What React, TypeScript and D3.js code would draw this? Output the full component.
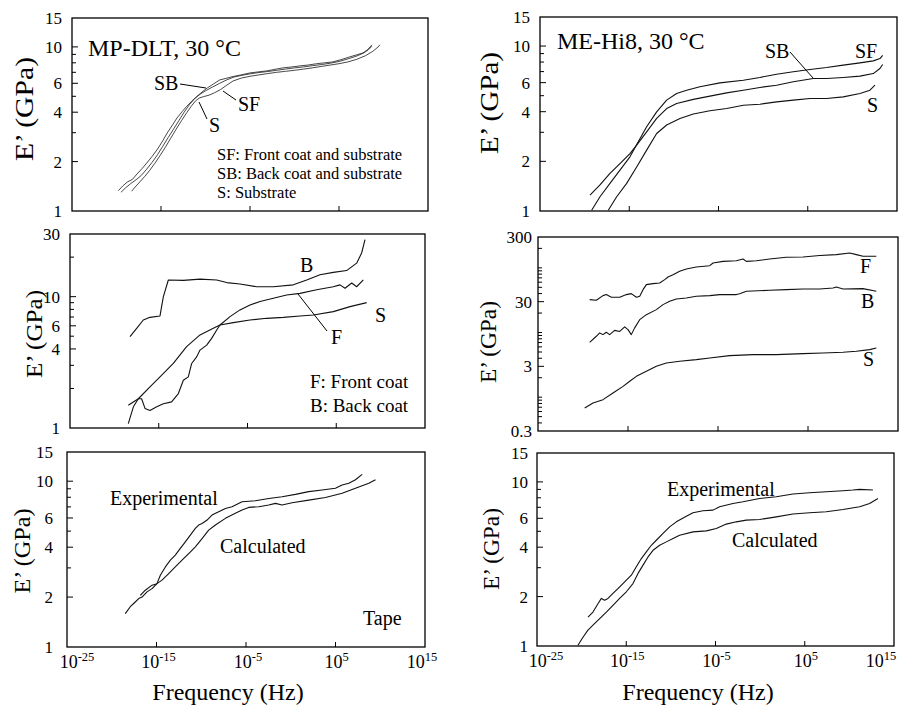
import React from "react";
import * as d3 from "d3";

type Pt = [number, number]; // [log10 frequency (Hz), E' (GPa)]

// ---------- MP-DLT, 30 °C (top left) ----------
const tlSB: Pt[] = [[-19.8,1.33],[-19.3,1.42],[-18.8,1.5],[-18.2,1.56],[-17.7,1.68],[-17.1,1.82],[-16.6,1.96],[-16.0,2.15],[-15.4,2.38],[-14.8,2.68],[-14.3,2.99],[-13.7,3.35],[-13.2,3.69],[-12.6,4.05],[-12.1,4.35],[-11.5,4.7],[-11.0,4.98],[-10.4,5.3],[-9.8,5.62],[-9.1,5.95],[-8.4,6.29],[-7.6,6.45],[-6.9,6.6],[-6.0,6.75],[-5.0,6.94],[-4.0,7.05],[-3.1,7.14],[-2.2,7.3],[-1.3,7.45],[-0.3,7.55],[0.6,7.66],[1.5,7.75],[2.5,7.9],[3.4,8.0],[4.3,8.1],[5.2,8.35],[6.2,8.69],[7.0,8.95],[7.7,9.19],[8.2,9.6],[8.5,10.0],[8.7,10.3]];
const tlSF: Pt[] = [[-19.5,1.3],[-19.0,1.38],[-18.4,1.47],[-17.8,1.55],[-17.2,1.65],[-16.6,1.8],[-16.0,1.98],[-15.4,2.2],[-14.8,2.48],[-14.2,2.8],[-13.6,3.15],[-13.0,3.55],[-12.4,4.0],[-11.8,4.45],[-11.2,4.85],[-10.6,5.15],[-10.0,5.4],[-9.2,5.7],[-8.4,6.0],[-7.6,6.3],[-6.8,6.55],[-6.0,6.7],[-5.0,6.85],[-4.0,6.98],[-3.0,7.08],[-2.0,7.2],[-1.0,7.33],[0.0,7.45],[1.0,7.55],[2.0,7.68],[3.0,7.8],[4.0,7.95],[5.0,8.15],[6.0,8.45],[7.0,8.8],[7.8,9.2],[8.3,9.6],[8.7,10.1]];
const tlS: Pt[] = [[-18.3,1.32],[-17.8,1.42],[-17.3,1.52],[-16.8,1.63],[-16.3,1.76],[-15.7,1.95],[-15.1,2.18],[-14.5,2.45],[-13.9,2.78],[-13.3,3.15],[-12.7,3.55],[-12.1,3.98],[-11.6,4.35],[-11.1,4.7],[-10.7,4.88],[-10.2,4.98],[-9.6,5.08],[-9.0,5.25],[-8.3,5.5],[-7.6,5.85],[-6.9,6.2],[-6.0,6.45],[-5.0,6.62],[-4.0,6.75],[-3.0,6.88],[-2.0,7.0],[-1.0,7.1],[0.0,7.2],[1.0,7.32],[2.0,7.45],[3.0,7.6],[4.0,7.75],[5.0,7.9],[6.0,8.1],[7.0,8.4],[8.0,8.85],[8.8,9.4],[9.4,10.0],[9.6,10.3]];

// ---------- ME-Hi8, 30 °C (top right) ----------
const trSF: Pt[] = [[-19.21,1.01],[-18.28,1.22],[-17.16,1.47],[-16.04,1.77],[-14.92,2.13],[-13.99,2.63],[-13.05,3.24],[-11.93,3.99],[-10.81,4.7],[-9.69,5.16],[-8.57,5.4],[-7.08,5.66],[-4.84,5.98],[-2.22,6.21],[-0.36,6.45],[1.51,6.75],[3.38,6.98],[5.25,7.21],[7.11,7.41],[8.98,7.66],[10.85,7.91],[12.34,8.13],[13.09,8.4],[13.39,8.79]];
const trSB: Pt[] = [[-19.4,1.25],[-18.28,1.44],[-17.16,1.69],[-16.04,1.94],[-14.92,2.23],[-14.17,2.51],[-13.05,3.02],[-11.93,3.64],[-10.81,4.18],[-9.69,4.49],[-7.82,4.75],[-5.96,4.97],[-4.09,5.2],[-2.22,5.4],[-0.36,5.61],[1.51,5.79],[3.38,6.07],[5.62,6.36],[7.11,6.36],[8.98,6.45],[10.85,6.57],[12.34,6.81],[13.09,7.31],[13.39,7.73]];
const trS: Pt[] = [[-17.35,1.01],[-16.41,1.22],[-15.29,1.47],[-14.17,1.85],[-13.05,2.34],[-11.93,2.95],[-10.81,3.32],[-9.32,3.64],[-7.82,3.87],[-5.96,4.05],[-4.09,4.18],[-2.22,4.38],[-0.36,4.44],[1.51,4.59],[3.38,4.7],[5.25,4.81],[7.11,4.81],[8.98,4.92],[10.85,5.16],[11.97,5.4],[12.53,5.79]];

// ---------- MP-DLT coats (middle left) ----------
const mlB: Pt[] = [[-18.24,4.96],[-17.49,5.74],[-16.74,6.64],[-15.99,6.96],[-14.86,7.13],[-14.48,10.0],[-13.92,13.4],[-12.23,13.3],[-10.35,13.6],[-8.47,13.4],[-7.35,12.8],[-5.85,12.5],[-3.97,11.9],[-2.09,11.9],[0.16,12.3],[1.67,13.4],[3.17,14.7],[4.67,15.3],[6.17,15.8],[7.3,18.0],[7.86,21.5],[8.24,27.2]];
const mlF: Pt[] = [[-18.43,1.08],[-17.86,1.45],[-17.3,1.67],[-16.93,1.67],[-16.55,1.41],[-15.99,1.36],[-15.23,1.45],[-14.48,1.53],[-13.55,1.58],[-12.79,1.83],[-12.23,2.31],[-11.67,2.45],[-11.29,3.1],[-10.73,3.48],[-10.35,3.92],[-9.6,4.28],[-9.04,4.81],[-8.47,5.57],[-8.1,6.08],[-6.97,7.05],[-5.85,7.93],[-4.72,8.65],[-3.59,9.18],[-2.09,9.73],[-0.59,10.3],[0.92,10.6],[2.79,11.3],[4.67,11.9],[5.42,12.3],[5.99,11.6],[6.74,12.7],[7.3,11.9],[8.05,13.4]];
const mlS: Pt[] = [[-18.43,1.49],[-17.3,1.67],[-15.99,2.06],[-14.86,2.45],[-13.36,3.1],[-11.86,4.16],[-10.35,5.11],[-8.85,5.74],[-8.1,6.08],[-6.6,6.34],[-4.72,6.64],[-2.84,6.84],[-0.96,6.96],[0.92,7.13],[2.42,7.26],[4.67,7.69],[6.55,8.4],[8.43,9.01]];

// ---------- ME-Hi8 layers (middle right) ----------
const mrF: Pt[] = [[-19.26,32.3],[-18.52,31.5],[-17.78,37.2],[-17.41,38.6],[-16.85,35.1],[-15.92,35.1],[-15.18,38.6],[-14.63,39.9],[-14.07,35.1],[-13.7,36.3],[-13.33,46.0],[-12.96,55.0],[-12.22,57.0],[-11.48,58.4],[-10.92,65.7],[-10.55,72.3],[-10.0,78.5],[-9.26,88.4],[-8.52,96.2],[-7.41,103],[-5.92,108],[-5.55,119],[-4.44,126],[-2.96,129],[-2.22,137],[-1.85,126],[-0.74,129],[0.74,137],[2.59,146],[4.45,147],[6.3,155],[8.15,160],[9.63,170],[10.37,160],[11.11,151],[12.59,151]];
const mrB: Pt[] = [[-19.26,7.06],[-18.52,8.75],[-18.15,9.85],[-17.78,9.28],[-17.41,10.1],[-17.04,9.28],[-16.48,10.8],[-15.92,10.4],[-15.37,12.2],[-15.0,11.1],[-14.63,9.28],[-14.26,11.8],[-13.7,15.8],[-12.96,18.9],[-11.85,22.6],[-11.11,27.0],[-10.37,30.4],[-9.63,33.0],[-8.52,34.2],[-7.41,36.3],[-5.92,37.2],[-4.81,38.6],[-2.96,38.6],[-2.59,39.9],[-1.85,43.4],[0.74,45.0],[2.59,46.0],[4.45,47.2],[6.3,47.2],[7.78,48.9],[8.15,50.7],[8.89,47.2],[11.11,47.7],[12.59,43.4]];
const mrS: Pt[] = [[-19.81,0.681],[-18.89,0.814],[-17.78,0.916],[-16.67,1.16],[-15.55,1.47],[-14.81,1.76],[-14.07,2.1],[-12.96,2.51],[-11.85,3.0],[-10.74,3.38],[-9.26,3.59],[-7.41,3.81],[-5.92,4.04],[-3.7,4.39],[-1.11,4.55],[1.48,4.55],[4.45,4.72],[6.67,4.83],[8.89,4.95],[10.37,5.13],[11.85,5.44],[12.59,5.77]];

// ---------- Tape, experimental vs calculated (bottom) ----------
const blExp: Pt[] = [[-18.49,1.59],[-17.93,1.75],[-17.55,1.83],[-16.99,1.96],[-16.62,2.0],[-16.06,2.15],[-15.5,2.25],[-14.95,2.41],[-14.57,2.71],[-14.01,3.04],[-13.45,3.34],[-12.9,3.58],[-12.34,3.93],[-11.78,4.31],[-11.22,4.73],[-10.66,5.19],[-10.29,5.44],[-9.91,5.56],[-9.35,5.83],[-8.8,6.25],[-8.05,6.54],[-7.3,6.85],[-6.56,7.02],[-5.44,7.52],[-3.95,7.62],[-2.46,7.87],[-0.97,8.06],[0.52,8.33],[2.01,8.65],[3.5,8.85],[4.99,9.06],[5.74,9.49],[6.49,9.71],[7.23,10.2],[7.98,11.0]];
const blCalc: Pt[] = [[-16.81,2.05],[-16.25,2.2],[-15.5,2.36],[-14.95,2.41],[-14.39,2.53],[-13.64,2.77],[-12.9,3.04],[-12.15,3.34],[-11.4,3.66],[-10.66,4.02],[-9.91,4.51],[-9.17,5.07],[-8.42,5.44],[-7.3,5.97],[-6.19,6.4],[-5.44,6.7],[-4.7,6.95],[-3.58,7.02],[-2.46,7.18],[-1.71,7.35],[-0.97,7.18],[0.15,7.41],[2.01,7.69],[3.88,7.98],[5.74,8.45],[7.23,9.06],[8.72,9.71],[9.47,10.2]];
const brExp: Pt[] = [[-19.29,1.5],[-18.73,1.61],[-18.17,1.81],[-17.79,1.95],[-17.42,1.9],[-17.05,1.95],[-16.49,2.09],[-15.93,2.24],[-15.37,2.4],[-14.99,2.52],[-14.43,2.7],[-13.87,3.04],[-13.31,3.41],[-12.75,3.75],[-12.19,4.11],[-11.63,4.41],[-10.88,4.85],[-10.14,5.32],[-9.39,5.71],[-8.27,6.18],[-7.52,6.48],[-6.4,6.67],[-5.28,6.73],[-4.54,7.05],[-3.04,7.39],[-1.92,7.57],[-0.06,7.93],[1.81,8.11],[3.68,8.43],[5.55,8.59],[7.41,8.71],[9.28,8.83],[10.4,8.92],[11.15,9.0],[12.64,8.92]];
const brCalc: Pt[] = [[-20.41,1.01],[-19.85,1.13],[-19.29,1.25],[-18.73,1.34],[-17.98,1.47],[-17.23,1.61],[-16.49,1.77],[-15.74,1.95],[-14.99,2.14],[-14.25,2.4],[-13.68,2.77],[-13.12,3.11],[-12.56,3.49],[-12.0,3.83],[-11.26,4.11],[-10.51,4.31],[-9.76,4.52],[-9.02,4.73],[-7.52,4.96],[-6.03,5.03],[-4.91,5.2],[-3.79,5.53],[-2.67,5.71],[-1.55,5.85],[-0.06,5.9],[1.81,6.12],[3.68,6.37],[5.55,6.48],[7.41,6.58],[9.28,6.79],[11.15,7.05],[12.27,7.39],[13.2,7.93]];

// ---------- axes ----------
const xExponents = [-25, -15, -5, 5, 15];
const xInnerTicks = [-15, -5, 5];
const yLabels15 = [1, 2, 4, 6, 10, 15];
const yTicks15 = [2, 3, 4, 5, 6, 7, 8, 9, 10];
const yLabels30 = [1, 4, 6, 10, 30];
const yTicks30 = [2, 3, 4, 5, 6, 7, 8, 9, 10, 20];
const yLabels300 = [0.3, 3, 30, 300];
const yTicks300 = [0.4, 0.5, 0.6, 0.7, 0.8, 0.9, 1, 2, 3, 4, 5, 6, 7, 8, 9, 10, 20, 30, 40, 50, 60, 70, 80, 90, 100, 200];

const FONT = "'Liberation Serif', 'Times New Roman', 'DejaVu Serif', serif";

interface Frame { x0: number; x1: number; y0: number; y1: number }

interface PanelProps {
  f: Frame;
  yDomain: [number, number];
  yLabels: number[];
  yTicks: number[];
  series: Pt[][];
  labelGap: number;
  showX: boolean;
  xShift?: number[];
  title: { x: number; y: number; len: number; size: number };
  stroke?: string;
  sw?: number;
}

function Panel({ f, yDomain, yLabels, yTicks, series, labelGap, showX, xShift = [0, 0, 0, 0, 0], title, stroke = "#111", sw = 1.1 }: PanelProps) {
  const x = d3.scaleLinear().domain([-25, 15]).range([f.x0, f.x1]);
  const y = d3.scaleLog().domain(yDomain).range([f.y1, f.y0]);
  const line = d3.line<Pt>().x((d) => x(d[0])).y((d) => y(d[1]));
  return (
    <g>
      {series.map((s, i) => (
        <path key={i} d={line(s) || ""} fill="none" stroke={stroke} strokeWidth={sw} strokeLinejoin="round" />
      ))}
      <rect x={f.x0} y={f.y0} width={f.x1 - f.x0} height={f.y1 - f.y0} fill="none" stroke="#000" strokeWidth={1.3} />
      {yTicks.map((t) => (
        <line key={"yt" + t} x1={f.x0} x2={f.x0 + (yLabels.includes(t) ? 6 : 4)} y1={y(t)} y2={y(t)} stroke="#000" strokeWidth={1} />
      ))}
      {yLabels.map((t) => (
        <text key={"yl" + t} x={f.x0 - labelGap} y={y(t)} dy="0.35em" textAnchor="end" fontSize={17} fontFamily={FONT}>
          {t}
        </text>
      ))}
      {xInnerTicks.map((e) => (
        <line key={"xt" + e} x1={x(e)} x2={x(e)} y1={f.y1} y2={f.y1 - 5} stroke="#000" strokeWidth={1} />
      ))}
      {showX &&
        xExponents.map((e, i) => (
          <text key={"xl" + e} x={x(e) + xShift[i]} y={f.y1 + 21} textAnchor="middle" fontSize={18} fontFamily={FONT}>
            10
            <tspan dy={-7} fontSize={12.5}>{String(e)}</tspan>
          </text>
        ))}
      <text
        transform={`translate(${title.x},${title.y}) rotate(-90)`}
        textAnchor="middle"
        dy="0.35em"
        fontSize={title.size}
        fontFamily={FONT}
        textLength={title.len}
        lengthAdjust="spacingAndGlyphs"
      >
        E’ (GPa)
      </text>
    </g>
  );
}

const T = (props: { x: number; y: number; s: number; children: React.ReactNode }) => (
  <text x={props.x} y={props.y} fontSize={props.s} fontFamily={FONT} fill="#000">
    {props.children}
  </text>
);

const L = (p: { x1: number; y1: number; x2: number; y2: number }) => (
  <line {...p} stroke="#000" strokeWidth={1} />
);

export default function App() {
  return (
    <svg width={910} height={705} style={{ position: "absolute", left: 0, top: 0, background: "#fff" }}>
      <rect width={910} height={705} fill="#fff" />
      {/* top left */}
      <Panel f={{ x0: 72, x1: 428, y0: 18, y1: 211 }} yDomain={[1, 15]} yLabels={yLabels15} yTicks={yTicks15}
        series={[tlSB, tlSF, tlS]} labelGap={10} showX={false} stroke="#333" sw={0.9}
        title={{ x: 24, y: 109, len: 104, size: 26 }} />
      <T x={88} y={56} s={24}>MP-DLT, 30 °C</T>
      <T x={154} y={90} s={20}>SB</T>
      <L x1={180} y1={84} x2={206} y2={88} />
      <T x={238} y={111} s={20}>SF</T>
      <L x1={223} y1={91} x2={236} y2={100} />
      <T x={209} y={132} s={20}>S</T>
      <L x1={199} y1={102} x2={207} y2={119} />
      <T x={217} y={160} s={16.5}>SF: Front coat and substrate</T>
      <T x={217} y={179} s={16.5}>SB: Back coat and substrate</T>
      <T x={217} y={198} s={16.5}>S: Substrate</T>

      {/* top right */}
      <Panel f={{ x0: 540, x1: 897, y0: 17, y1: 211 }} yDomain={[1, 15]} yLabels={yLabels15} yTicks={yTicks15}
        series={[trSF, trSB, trS]} labelGap={10} showX={false}
        title={{ x: 489, y: 103, len: 102, size: 26 }} />
      <T x={557} y={49} s={24}>ME-Hi8, 30 °C</T>
      <T x={765} y={58} s={20}>SB</T>
      <L x1={790} y1={52} x2={813} y2={78} />
      <T x={855} y={58} s={20}>SF</T>
      <T x={867} y={112} s={20}>S</T>

      {/* middle left */}
      <Panel f={{ x0: 70, x1: 425, y0: 234, y1: 428 }} yDomain={[1, 30]} yLabels={yLabels30} yTicks={yTicks30}
        series={[mlB, mlF, mlS]} labelGap={10} showX={false}
        title={{ x: 34, y: 334, len: 88, size: 23 }} />
      <T x={300} y={272} s={20}>B</T>
      <T x={375} y={322} s={20}>S</T>
      <T x={331} y={344} s={20}>F</T>
      <L x1={298} y1={294} x2={327} y2={331} />
      <T x={310} y={388} s={19}>F: Front coat</T>
      <T x={310} y={412} s={19}>B: Back coat</T>

      {/* middle right */}
      <Panel f={{ x0: 538, x1: 898, y0: 237, y1: 431 }} yDomain={[0.3, 300]} yLabels={yLabels300} yTicks={yTicks300}
        series={[mrF, mrB, mrS]} labelGap={6} showX={false}
        title={{ x: 488, y: 342, len: 82, size: 23 }} />
      <T x={860} y={273} s={20}>F</T>
      <T x={861} y={308} s={20}>B</T>
      <T x={863} y={366} s={20}>S</T>

      {/* bottom left */}
      <Panel f={{ x0: 67, x1: 425, y0: 452, y1: 647 }} yDomain={[1, 15]} yLabels={yLabels15} yTicks={yTicks15}
        series={[blExp, blCalc]} labelGap={14} showX={true} xShift={[10, 2, 2, 1, -3]}
        title={{ x: 22, y: 551, len: 85, size: 23 }} />
      <T x={110} y={505} s={20}>Experimental</T>
      <T x={220} y={553} s={20}>Calculated</T>
      <T x={363} y={625} s={20}>Tape</T>
      <text x={228} y={700} textAnchor="middle" fontSize={24} fontFamily={FONT}>Frequency (Hz)</text>

      {/* bottom right */}
      <Panel f={{ x0: 537, x1: 894, y0: 453, y1: 646 }} yDomain={[1, 15]} yLabels={yLabels15} yTicks={yTicks15}
        series={[brExp, brCalc]} labelGap={9} showX={true} xShift={[9, 1, 1, 1, -13]}
        title={{ x: 491, y: 549, len: 82, size: 23 }} />
      <T x={667} y={496} s={20}>Experimental</T>
      <T x={732} y={547} s={20}>Calculated</T>
      <text x={698} y={700} textAnchor="middle" fontSize={24} fontFamily={FONT}>Frequency (Hz)</text>
    </svg>
  );
}
